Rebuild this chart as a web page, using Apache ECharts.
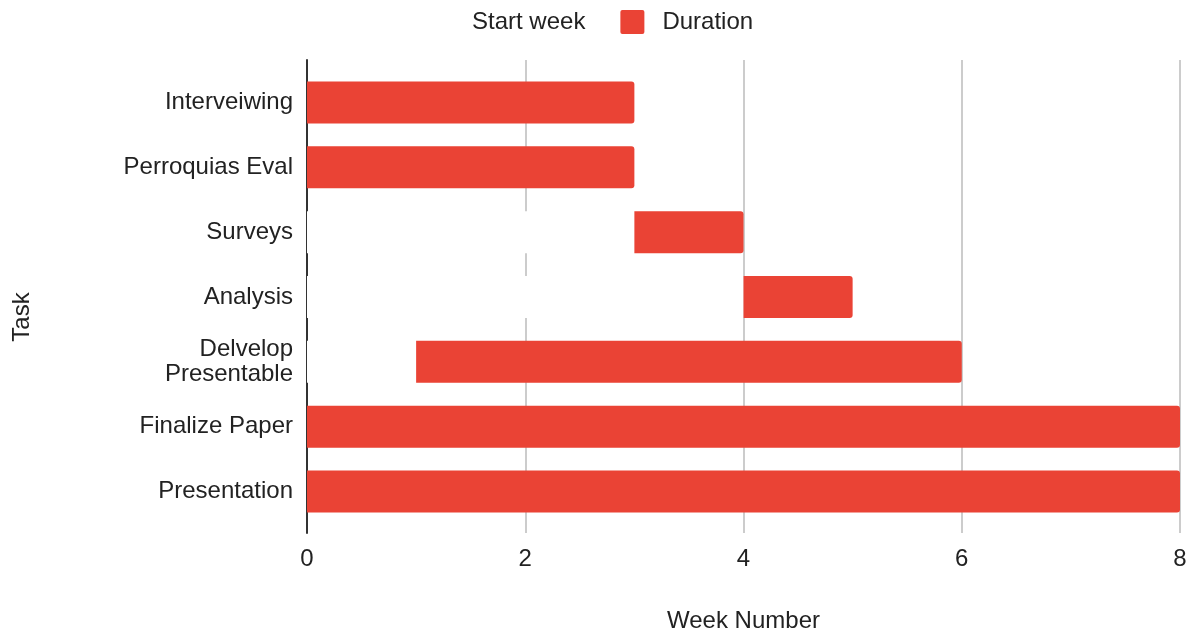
<!DOCTYPE html>
<html>
<head>
<meta charset="utf-8">
<script src="https://cdn.jsdelivr.net/npm/echarts@6/dist/echarts.min.js"></script>
<style>
  html, body { margin: 0; padding: 0; background: #ffffff; }
  #chart { width: 1195px; height: 638px; }
</style>
</head>
<body>
<div id="chart"></div>
<script>
// Project schedule: each task starts at a week and lasts a number of weeks
const tasks = ['Interveiwing', 'Perroquias Eval', 'Surveys', 'Analysis', 'Delvelop\nPresentable', 'Finalize Paper', 'Presentation'];
const startWeek = [0, 0, 3, 4, 1, 0, 0];
const duration = [3, 3, 1, 1, 5, 8, 8];
const weekTicks = [0, 2, 4, 6, 8];

const FONT = '"Liberation Sans", Arial, Helvetica, sans-serif';
const TEXT = '#222222';
const RED = '#EA4335';
const SIZE = 24;

// square legend swatch with slightly rounded corners
const SWATCH = 'path://M2,0 H22 Q24,0 24,2 V22 Q24,24 22,24 H2 Q0,24 0,22 V2 Q0,0 2,0 Z';

const chart = echarts.init(document.getElementById('chart'), null, { renderer: 'canvas' });

chart.setOption({
  backgroundColor: '#ffffff',
  animation: false,
  textStyle: { fontFamily: FONT },
  legend: {
    left: 425,
    top: 5,
    itemWidth: 24,
    itemHeight: 24,
    itemGap: 35,
    icon: SWATCH,
    textStyle: { fontFamily: FONT, fontSize: SIZE, color: TEXT, padding: [0, 0, 0, 13] },
    data: ['Start week', 'Duration']
  },
  grid: [
    // frame grid: gridlines and the task axis line
    { left: 307, right: 15, top: 60, bottom: 102, containLabel: false },
    // bar grid: rows of tasks
    { left: 307, right: 15, top: 70, bottom: 114, containLabel: false }
  ],
  xAxis: [
    {
      gridIndex: 0,
      type: 'value',
      min: weekTicks[0],
      max: weekTicks[weekTicks.length - 1],
      interval: weekTicks[1] - weekTicks[0],
      name: 'Week Number',
      nameLocation: 'middle',
      nameGap: 76,
      nameTextStyle: { fontFamily: FONT, fontSize: SIZE, color: TEXT },
      axisLine: { show: false },
      axisTick: { show: false },
      axisLabel: { fontFamily: FONT, fontSize: SIZE, color: TEXT, margin: 14 },
      splitLine: { show: true, lineStyle: { color: '#cccccc', width: 2 } }
    },
    {
      gridIndex: 1,
      type: 'value',
      min: weekTicks[0],
      max: weekTicks[weekTicks.length - 1],
      show: false,
      splitLine: { show: false }
    }
  ],
  yAxis: [
    {
      gridIndex: 0,
      type: 'category',
      data: [''],
      axisLine: { show: true, lineStyle: { color: '#333333', width: 2 } },
      axisTick: { show: false },
      axisLabel: { show: false },
      splitLine: { show: false }
    },
    {
      gridIndex: 1,
      type: 'category',
      inverse: true,
      data: tasks,
      axisLine: { show: false },
      axisTick: { show: false },
      axisLabel: { fontFamily: FONT, fontSize: SIZE, color: TEXT, margin: 14, lineHeight: 25, align: 'right' },
      splitLine: { show: false }
    }
  ],
  graphic: [
    {
      type: 'text',
      x: 22,
      y: 317,
      rotation: Math.PI / 2,
      style: {
        text: 'Task',
        fontFamily: FONT,
        fontSize: SIZE,
        fill: TEXT,
        align: 'center',
        verticalAlign: 'middle'
      }
    }
  ],
  series: [
    {
      name: 'Start week',
      type: 'bar',
      xAxisIndex: 1,
      yAxisIndex: 1,
      stack: 'plan',
      barWidth: 42,
      itemStyle: { color: '#ffffff' },
      data: startWeek
    },
    {
      name: 'Duration',
      type: 'bar',
      xAxisIndex: 1,
      yAxisIndex: 1,
      stack: 'plan',
      barWidth: 42,
      itemStyle: { color: RED, borderRadius: [0, 3, 3, 0] },
      data: duration
    }
  ]
});
</script>
</body>
</html>
